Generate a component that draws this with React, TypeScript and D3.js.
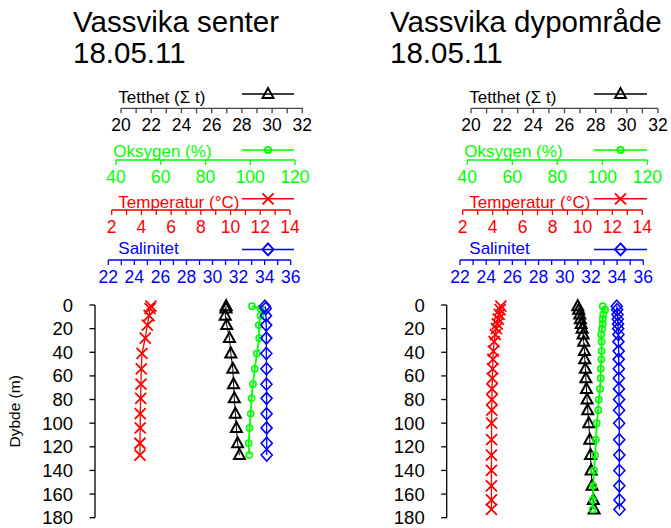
import React from 'react'
import * as d3 from 'd3'

// tick values
const depthTicks = [0, 20, 40, 60, 80, 100, 120, 140, 160, 180]
const densityLabels = [20, 22, 24, 26, 28, 30, 32]
const densityMinor = [20, 21, 22, 23, 24, 25, 26, 27, 28, 29, 30, 31, 32]
const oxygenLabels = [40, 60, 80, 100, 120]
const tempLabels = [2, 4, 6, 8, 10, 12, 14]
const tempMinor = [2, 3, 4, 5, 6, 7, 8, 9, 10, 11, 12, 13, 14]
const salLabels = [22, 24, 26, 28, 30, 32, 34, 36]
const salMinor = [22, 23, 24, 25, 26, 27, 28, 29, 30, 31, 32, 33, 34, 35, 36]

// Vassvika senter
const senterDepth = [1, 3, 9, 17, 28, 41, 54, 67, 79, 92, 104, 117, 127]
const senterDensity = [26.96, 26.95, 26.9, 27.0, 27.18, 27.27, 27.4, 27.45, 27.5, 27.57, 27.64, 27.72, 27.84]
const senterOxygen = [100.8, 104.6, 104.6, 103.8, 104.0, 103.0, 102.0, 101.2, 100.6, 100.2, 99.7, 99.3, 99.6]
const senterTemp = [4.64, 4.58, 4.52, 4.4, 4.26, 4.04, 3.99, 3.97, 3.95, 3.92, 3.92, 3.9, 3.9]
const senterSalinity = [34.02, 34.08, 34.1, 34.12, 34.13, 34.13, 34.14, 34.14, 34.15, 34.15, 34.15, 34.16, 34.16]

// Vassvika dypområde
const dypDepth = [1, 4, 8, 12, 16, 20, 25, 31, 39, 46, 54, 62, 71, 80, 89, 100, 114, 127, 140, 153, 165, 173]
const dypDensity = [26.85, 26.91, 26.98, 27.02, 27.07, 27.13, 27.19, 27.23, 27.28, 27.3, 27.34, 27.37, 27.41, 27.45, 27.49, 27.56, 27.62, 27.67, 27.71, 27.77, 27.85, 27.9]
const dypOxygen = [100.2, 101.2, 100.4, 100.2, 100.2, 99.9, 99.5, 99.7, 99.7, 99.6, 99.3, 99.3, 99.0, 98.4, 98.2, 97.5, 97.2, 96.8, 96.3, 96.0, 95.7, 95.7]
const dypTemp = [4.55, 4.5, 4.44, 4.38, 4.31, 4.25, 4.18, 4.1, 4.05, 4.02, 4.0, 3.98, 3.96, 3.95, 3.94, 3.93, 3.93, 3.92, 3.92, 3.92, 3.92, 3.92]
const dypSalinity = [33.97, 34.0, 34.03, 34.05, 34.07, 34.08, 34.1, 34.1, 34.12, 34.12, 34.13, 34.13, 34.14, 34.15, 34.15, 34.16, 34.16, 34.17, 34.17, 34.17, 34.18, 34.18]

const FONT = '"Liberation Sans", Arial, Helvetica, sans-serif'
const GREEN = '#00ff00'
const RED = '#ff0000'
const BLUE = '#0000ff'

const PANELS = [
  {
    title: 'Vassvika senter', titleX: 73, axisX: 95, legendText: 118.3, legendLine: [242, 294],
    ranges: { density: [121, 302.3], oxygen: [116, 295], temp: [111.7, 290], sal: [108.3, 290.7] },
    depth: senterDepth, density: senterDensity, oxygen: senterOxygen, temp: senterTemp, sal: senterSalinity,
  },
  {
    title: 'Vassvika dypområde', titleX: 390, axisX: 446.7, legendText: 469.3, legendLine: [594, 647],
    ranges: { density: [471, 658], oxygen: [467.3, 647.3], temp: [462.7, 642.3], sal: [460, 643.3] },
    depth: dypDepth, density: dypDensity, oxygen: dypOxygen, temp: dypTemp, sal: dypSalinity,
  },
]

const yDepth = d3.scaleLinear().domain([0, 180]).range([305, 517.7])

type Shape = 'triangle' | 'circle' | 'cross' | 'diamond'

function markerPath(shape: Shape, x: number, y: number) {
  if (shape === 'triangle') return `M${x},${y - 6}L${x + 5.5},${y + 4}L${x - 5.5},${y + 4}Z`
  if (shape === 'cross') return `M${x - 5.5},${y - 5.5}L${x + 5.5},${y + 5.5}M${x - 5.5},${y + 5.5}L${x + 5.5},${y - 5.5}`
  if (shape === 'diamond') return `M${x},${y - 6}L${x + 5.5},${y}L${x},${y + 6}L${x - 5.5},${y}Z`
  const r = 3.1
  return `M${x - r},${y}a${r},${r} 0 1,0 ${2 * r},0a${r},${r} 0 1,0 ${-2 * r},0`
}

function TopAxis({ scale, y, labels, minor, color, lineColor }: any) {
  const [r0, r1] = scale.range()
  return (
    <g>
      <line x1={r0} x2={r1} y1={y} y2={y} stroke={lineColor} strokeWidth={1.3} />
      {minor.map((t: number) => (
        <line key={t} x1={scale(t)} x2={scale(t)} y1={y} y2={y + 5} stroke={lineColor} strokeWidth={1.3} />
      ))}
      {labels.map((t: number) => (
        <text key={t} x={scale(t)} y={y + 22.5} textAnchor="middle" fontSize={17.5} fill={color}>{t}</text>
      ))}
    </g>
  )
}

function Series({ xs, depth, scale, color, shape, lineWidth, markWidth }: any) {
  const line = d3.line<number>().x((v) => scale(v)).y((_, i) => yDepth(depth[i]))
  return (
    <g>
      <path d={line(xs) || ''} fill="none" stroke={color} strokeWidth={lineWidth} />
      {xs.map((v: number, i: number) => (
        <path key={i} d={markerPath(shape, scale(v), yDepth(depth[i]))} fill="none" stroke={color} strokeWidth={markWidth} />
      ))}
    </g>
  )
}

function Panel({ p }: any) {
  const sDensity = d3.scaleLinear().domain([20, 32]).range(p.ranges.density)
  const sOxygen = d3.scaleLinear().domain([40, 120]).range(p.ranges.oxygen)
  const sTemp = d3.scaleLinear().domain([2, 14]).range(p.ranges.temp)
  const sSal = d3.scaleLinear().domain([22, 36]).range(p.ranges.sal)
  const [l0, l1] = p.legendLine
  const lm = (l0 + l1) / 2

  const legend = [
    { label: 'Tetthet (Σ t)', color: '#000', shape: 'triangle', y: 94, base: 102.8, dx: 0 },
    { label: 'Oksygen (%)', color: GREEN, shape: 'circle', y: 150, base: 156.5, dx: -5 },
    { label: 'Temperatur (°C)', color: RED, shape: 'cross', y: 198.8, base: 208, dx: 0 },
    { label: 'Salinitet', color: BLUE, shape: 'diamond', y: 249.4, base: 254, dx: 0 },
  ]

  return (
    <g>
      <text x={p.titleX} y={31.7} fontSize={29.5}>{p.title}</text>
      <text x={p.titleX} y={62.5} fontSize={29.5}>18.05.11</text>

      {legend.map((d) => (
        <g key={d.label}>
          <text x={p.legendText + d.dx} y={d.base} fontSize={17} fill={d.color}>{d.label}</text>
          <line x1={l0} x2={l1} y1={d.y} y2={d.y} stroke={d.color} strokeWidth={1.5} />
          <path d={markerPath(d.shape as Shape, lm, d.y)} fill="none" stroke={d.color} strokeWidth={1.9} />
        </g>
      ))}

      <TopAxis scale={sDensity} y={108.3} labels={densityLabels} minor={densityMinor} color="#000" lineColor="#444" />
      <TopAxis scale={sOxygen} y={160} labels={oxygenLabels} minor={oxygenLabels} color={GREEN} lineColor={GREEN} />
      <TopAxis scale={sTemp} y={210} labels={tempLabels} minor={tempMinor} color={RED} lineColor={RED} />
      <TopAxis scale={sSal} y={260} labels={salLabels} minor={salMinor} color={BLUE} lineColor={BLUE} />

      {/* depth axis */}
      <line x1={p.axisX} x2={p.axisX} y1={yDepth(0)} y2={yDepth(180)} stroke="#000" strokeWidth={1.3} />
      {depthTicks.map((t) => (
        <g key={t}>
          <line x1={p.axisX - 5.5} x2={p.axisX} y1={yDepth(t)} y2={yDepth(t)} stroke="#000" strokeWidth={1.3} />
          <text x={p.axisX - 22} y={yDepth(t) + 6.5} textAnchor="end" fontSize={18.5}>{t}</text>
        </g>
      ))}

      <Series xs={p.temp} depth={p.depth} scale={sTemp} color={RED} shape="cross" lineWidth={1.3} markWidth={1.8} />
      <Series xs={p.density} depth={p.depth} scale={sDensity} color="#000" shape="triangle" lineWidth={1} markWidth={2} />
      <Series xs={p.oxygen} depth={p.depth} scale={sOxygen} color={GREEN} shape="circle" lineWidth={1.8} markWidth={1.6} />
      <Series xs={p.sal} depth={p.depth} scale={sSal} color={BLUE} shape="diamond" lineWidth={1.3} markWidth={1.6} />
    </g>
  )
}

export default function App() {
  return (
    <svg width={671} height={528} style={{ position: 'absolute', left: 0, top: 0, background: '#fff' }}
      fontFamily={FONT}>
      <rect width={671} height={528} fill="#fff" />
      {PANELS.map((p) => <Panel key={p.title} p={p} />)}
      <text transform={`translate(20,${yDepth(90)}) rotate(-90)`} textAnchor="middle" fontSize={15.5}>Dybde (m)</text>
    </svg>
  )
}
